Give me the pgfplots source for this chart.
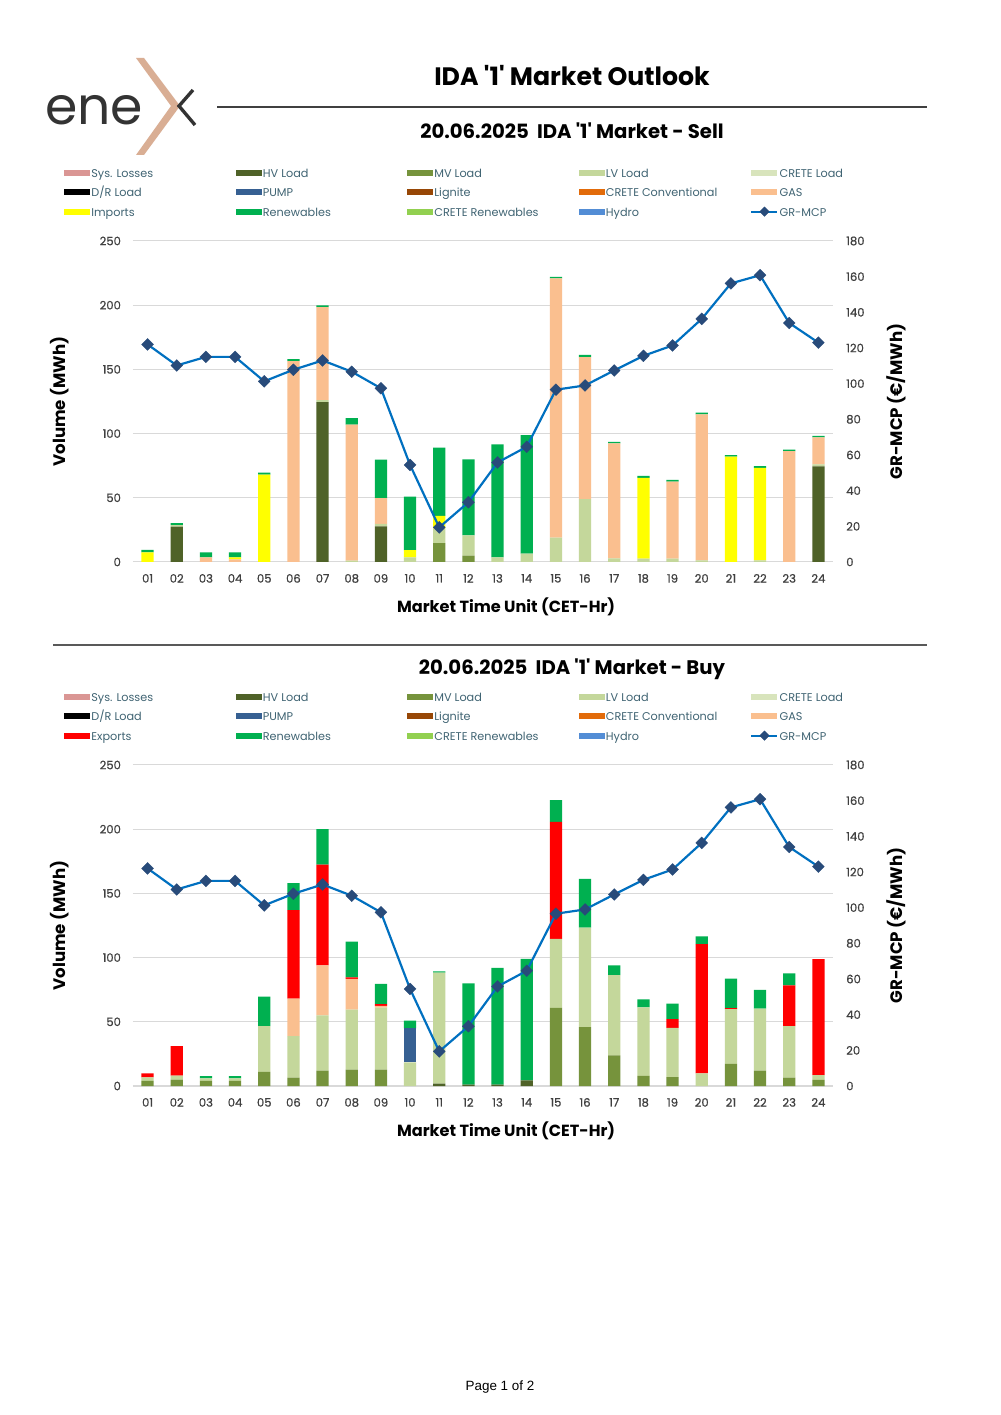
\documentclass[border=0pt]{standalone}
\usepackage{pgfplots}
\pgfplotsset{compat=1.18}
\usepackage{pgfplotstable}
\usepackage{fontspec}
\setmainfont{Poppins}[Ligatures=TeXOff]
\newfontfamily\tickfont{Poppins}[FakeBold=0.7]
\newfontfamily\arialfont{Liberation Sans}

\definecolor{syslos}{HTML}{DA9694}
\definecolor{hv}{HTML}{4F6228}
\definecolor{mv}{HTML}{76933C}
\definecolor{lv}{HTML}{C4D79B}
\definecolor{creteload}{HTML}{D8E4BC}
\definecolor{dr}{HTML}{000000}
\definecolor{pump}{HTML}{366092}
\definecolor{lignite}{HTML}{974706}
\definecolor{creteconv}{HTML}{E26B0A}
\definecolor{gas}{HTML}{FABF8F}
\definecolor{imports}{HTML}{FFFF00}
\definecolor{renew}{HTML}{00B050}
\definecolor{creteren}{HTML}{92D050}
\definecolor{hydro}{HTML}{538DD5}
\definecolor{exports}{HTML}{FF0000}
\definecolor{mcpline}{HTML}{0070C0}
\definecolor{mcpmark}{HTML}{284B7A}
\definecolor{gridc}{HTML}{D9D9D9}
\definecolor{tick}{HTML}{404040}
\definecolor{legtext}{HTML}{406473}
\definecolor{logotan}{HTML}{D9AE94}

% hourly volumes (MWh) and GR-MCP (EUR/MWh)
\pgfplotstableread{
h  HV    MV    LV    GAS    IMP   REN   MCP
1  0     0     0     0      7.5   2     122
2  27.5  0     1.3   0      0     1.5   110.2
3  0     0     0     3.5    0     4     115
4  0     0     0     2      1.5   4     115
5  0     0     0     0      68    1.5   101.3
6  0     0     0     156.5  0     1.5   107.8
7  124.5 0     1.5   72.5   0     1.3   113
8  0     0     1     106    0     5     106.7
9  27.7  0     2     20     0     30    97.4
10 0     0     3.6   0      5.7   41.6  54.4
11 0     14.7  11.2  0      10.1  53    19.4
12 0     5     15.7  0      0     59.3  33.5
13 0     0     3.6   0      0     88    55.8
14 0     0     6.5   0      0     92.3  64.6
15 0     0     19    201.8  0     1.3   96.6
16 0     0     49    110.5  0     1.8   99
17 0     0     2.8   89.5   0     1.3   107.4
18 0     0     2.6   0      63    1.5   115.6
19 0     0     2.6   60     0     1.3   121.4
20 0     0     1.3   113.7  0     1.3   136.3
21 0     0     0     0      82    1.3   156.2
22 0     0     1.3   0      72    1.3   160.8
23 0     0     0     86.3   0     1.3   134
24 74.5  0     1.5   21     0     1.3   123
}\sell

\pgfplotstableread{
h  HV   MV    LV    PUMP  GAS   EXP   REN   MCP
1  0    4     2.7   0     0     3.1   0     122
2  0    5     3     0     0     23    0     110.2
3  0    4     2     0     0     0     1.6   115
4  0    4     2     0     0     0     1.6   115
5  0    11    35.7  0     0     0     23    101.3
6  0    6.5   32.3  0     29.2  69    21    107.8
7  0    12    43    0     39    78.4  27.6  113
8  0    12.7  46.8  0     24    1     28    106.7
9  0    12.7  48.4  0     1.3   1.3   15.8  97.4
10 0    0     18.4  26.4  0     0     6.2   54.4
11 1.8  0     86.5  0     0     0     1     19.4
12 1    0     0     0     0     0     79    33.5
13 1    0     0     0     0     0     91    55.8
14 4.4  0     0     0     0     0     94.7  64.6
15 0    60.8  53.8  0     0     91.1  16.9  96.6
16 0    45.8  77.6  0     0     0     38    99
17 0    23.8  62.6  0     0     0     7.5   107.4
18 0    7.8   53.5  0     0     0     6.2   115.6
19 0    7     38.3  0     0     6.7   12.2  121.4
20 0    0     9.8   0     0     100.7 6     136.3
21 0    17.3  42.5  0     0     0.8   23    156.2
22 0    11.9  48.4  0     0     0     14.5  160.8
23 0    6.5   40.1  0     0     31.8  9.3   134
24 0    4.7   3.8   0     0     90.4  0     123
}\buy

\newcommand\LE[1]{\makebox[85.4pt][l]{#1}}

\pgfplotsset{
  sw/.style={legend image code/.code={\fill[##1, draw=none] (0pt,-0.9pt) rectangle (15.5pt,2.7pt);}},
  mcp/.style={color=mcpline, line width=1.3pt, mark=square*, mark size=2.5pt,
    mark options={rotate=45, fill=mcpmark, draw=mcpmark, line width=0.2pt}},
  mcpleg/.style={legend image code/.code={\draw[##1, sharp plot, mark repeat=2, mark phase=2, mark size=2pt]
    plot coordinates {(0pt,0.9pt) (7.75pt,0.9pt) (15.5pt,0.9pt)};}},
  base/.style={scale only axis, width=416.7pt, height=191.1pt,
    xmin=0.5, xmax=24.5, ymin=0, major tick length=0pt,
    axis line style={draw=none},
    /pgf/number format/assume math mode=true,
    tick label style={font=\tickfont\fontsize{6.9}{8}\selectfont, text=tick}},
  bars/.style={base, ybar stacked, bar width=7.3pt, ymax=250,
    ytick={0,50,...,250}, ymajorgrids, grid style={gridc, line width=0.6pt},
    xtick={1,...,24},
    xticklabels={01,02,03,04,05,06,07,08,09,10,11,12,13,14,15,16,17,18,19,20,21,22,23,24},
    xticklabel style={inner sep=0pt, yshift=-7pt},
    yticklabel style={inner sep=0pt, xshift=-7pt},
    every axis x label/.style={at={(axis description cs:0.533,-0.14)}, anchor=center,
      font=\bfseries\fontsize{9.6}{11}\selectfont},
    every axis y label/.style={at={(axis description cs:-0.1043,0.5)}, rotate=90, anchor=center,
      font=\bfseries\fontsize{9.9}{11}\selectfont},
    legend columns=5, legend cell align=left,
    legend style={at={(axis description cs:-0.0986,1.2285)}, anchor=north west,
      draw=none, fill=none, inner sep=0pt, row sep=4.2pt, column sep=0pt,
      font=\fontsize{6.7}{7.5}\selectfont, text=legtext,
      nodes={inner sep=0.6pt, text height=5pt, text depth=1.2pt}}},
  line/.style={base, ymax=180, ytick={0,20,...,180},
    axis y line*=right, axis x line=none,
    yticklabel style={inner sep=0pt, xshift=7.7pt},
    every axis y label/.style={at={(axis description cs:1.09,0.5)}, rotate=90, anchor=center,
      font=\bfseries\fontsize{9.9}{11}\selectfont}},
}

\begin{document}
\begin{tikzpicture}
\path[use as bounding box, fill=white] (0,0) rectangle (595.3pt,842.35pt);

% ---------- Sell ----------
\begin{axis}[bars, at={(79.17pt,507.79pt)}, anchor=south west,
  xlabel={Market Time Unit (CET-Hr)}, ylabel={Volume (MWh)}]
\addlegendimage{sw, fill=syslos}\addlegendentry{\LE{Sys. Losses}}
\addplot[sw, fill=hv, draw=none] table[x=h,y=HV]{\sell};\addlegendentry{\LE{HV Load}}
\addplot[sw, fill=mv, draw=none] table[x=h,y=MV]{\sell};\addlegendentry{\LE{MV Load}}
\addplot[sw, fill=lv, draw=none] table[x=h,y=LV]{\sell};\addlegendentry{\LE{LV Load}}
\addlegendimage{sw, fill=creteload}\addlegendentry{\LE{CRETE Load}}
\addlegendimage{sw, fill=dr}\addlegendentry{\LE{D/R Load}}
\addlegendimage{sw, fill=pump}\addlegendentry{\LE{PUMP}}
\addlegendimage{sw, fill=lignite}\addlegendentry{\LE{Lignite}}
\addlegendimage{sw, fill=creteconv}\addlegendentry{\LE{CRETE Conventional}}
\addplot[sw, fill=gas, draw=none] table[x=h,y=GAS]{\sell};\addlegendentry{\LE{GAS}}
\addplot[sw, fill=imports, draw=none] table[x=h,y=IMP]{\sell};\addlegendentry{\LE{Imports}}
\addplot[sw, fill=renew, draw=none] table[x=h,y=REN]{\sell};\addlegendentry{\LE{Renewables}}
\addlegendimage{sw, fill=creteren}\addlegendentry{\LE{CRETE Renewables}}
\addlegendimage{sw, fill=hydro}\addlegendentry{\LE{Hydro}}
\addlegendimage{mcpleg, mcp}\addlegendentry{\LE{GR-MCP}}
\end{axis}
\begin{axis}[line, at={(79.17pt,507.79pt)}, anchor=south west, ylabel={GR-MCP (€/MWh)}]
\addplot[mcp] table[x=h,y=MCP]{\sell};
\end{axis}

% ---------- Buy ----------
\begin{axis}[bars, at={(79.17pt,195.85pt)}, anchor=south west,
  xlabel={Market Time Unit (CET-Hr)}, ylabel={Volume (MWh)}]
\addlegendimage{sw, fill=syslos}\addlegendentry{\LE{Sys. Losses}}
\addplot[sw, fill=hv, draw=none] table[x=h,y=HV]{\buy};\addlegendentry{\LE{HV Load}}
\addplot[sw, fill=mv, draw=none] table[x=h,y=MV]{\buy};\addlegendentry{\LE{MV Load}}
\addplot[sw, fill=lv, draw=none] table[x=h,y=LV]{\buy};\addlegendentry{\LE{LV Load}}
\addlegendimage{sw, fill=creteload}\addlegendentry{\LE{CRETE Load}}
\addlegendimage{sw, fill=dr}\addlegendentry{\LE{D/R Load}}
\addplot[sw, fill=pump, draw=none] table[x=h,y=PUMP]{\buy};\addlegendentry{\LE{PUMP}}
\addlegendimage{sw, fill=lignite}\addlegendentry{\LE{Lignite}}
\addlegendimage{sw, fill=creteconv}\addlegendentry{\LE{CRETE Conventional}}
\addplot[sw, fill=gas, draw=none] table[x=h,y=GAS]{\buy};\addlegendentry{\LE{GAS}}
\addplot[sw, fill=exports, draw=none] table[x=h,y=EXP]{\buy};\addlegendentry{\LE{Exports}}
\addplot[sw, fill=renew, draw=none] table[x=h,y=REN]{\buy};\addlegendentry{\LE{Renewables}}
\addlegendimage{sw, fill=creteren}\addlegendentry{\LE{CRETE Renewables}}
\addlegendimage{sw, fill=hydro}\addlegendentry{\LE{Hydro}}
\addlegendimage{mcpleg, mcp}\addlegendentry{\LE{GR-MCP}}
\end{axis}
\begin{axis}[line, at={(79.17pt,195.85pt)}, anchor=south west, ylabel={GR-MCP (€/MWh)}]
\addplot[mcp] table[x=h,y=MCP]{\buy};
\end{axis}

% ---------- page furniture (pixel coordinates) ----------
\begin{scope}[x=0.5953pt, y=-0.5953pt, yshift=842.35pt]
  % logo
  \node[anchor=base west, inner sep=0pt, text=black!80, font=\fontsize{31}{34}\selectfont] at (45,125) {ene};
  \fill[logotan] (136,58) -- (144,58) -- (180,106) -- (144,155) -- (136,155) -- (171,106) -- cycle;
  \draw[black!80, line width=2pt] (193,90) -- (179,106) -- (195,125);
  % titles
  \node[font=\bfseries\fontsize{15}{17}\selectfont] at (572,76) {IDA '1' Market Outlook};
  \draw[black!75, line width=0.9pt] (217,107) -- (927,107);
  \node[font=\bfseries\fontsize{11.7}{13}\selectfont] at (572,131) {20.06.2025\ \ IDA '1' Market - Sell};
  \draw[black!65, line width=1.2pt] (53,645) -- (927,645);
  \node[font=\bfseries\fontsize{11.7}{13}\selectfont] at (572,669) {20.06.2025\ \ IDA '1' Market - Buy};
  \node[font=\arialfont\fontsize{8}{9}\selectfont] at (500,1387) {Page 1 of 2};
\end{scope}
\end{tikzpicture}
\end{document}
